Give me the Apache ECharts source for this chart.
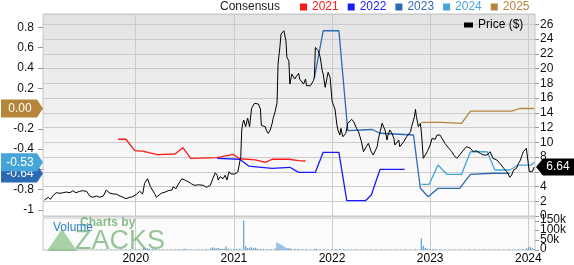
<!DOCTYPE html>
<html><head><meta charset="utf-8">
<script src="https://cdn.jsdelivr.net/npm/echarts@6/dist/echarts.min.js"></script>
<style>html,body{margin:0;padding:0;background:#fff}#c{width:574px;height:265px}</style>
</head><body><div id="c"></div>
<script>
// ---------- data ----------
const yearTicks = [2020, 2021, 2022, 2023, 2024];
const epsTicks = [-1, -0.8, -0.6, -0.4, -0.2, 0, 0.2, 0.4, 0.6, 0.8];
const epsLabels = [-1, -0.8, -0.4, -0.2, 0.2, 0.4, 0.6, 0.8];
const volumeTicksK = [0, 50, 100, 150];
const legendNames = ['2021', '2022', '2023', '2024', '2025'];
const legendColors = ['#ff1a1a', '#1a1aff', '#2a69b3', '#45a4d8', '#b5853c'];

const price = [[2019.07,2.17],[2019.11,2.54],[2019.13,2.26],[2019.16,2.81],[2019.19,3.16],[2019.23,3.08],[2019.26,3.16],[2019.29,3.25],[2019.33,3.16],[2019.36,3.43],[2019.39,3.16],[2019.43,3.35],[2019.46,3.43],[2019.50,3.35],[2019.53,2.71],[2019.56,2.54],[2019.60,2.71],[2019.63,2.54],[2019.67,2.71],[2019.70,3.53],[2019.73,3.16],[2019.77,2.98],[2019.80,2.98],[2019.84,2.71],[2019.87,2.54],[2019.90,2.35],[2019.94,2.54],[2019.97,2.62],[2020.01,2.98],[2020.04,3.35],[2020.07,2.98],[2020.09,4.43],[2020.12,5.06],[2020.14,4.98],[2020.15,3.97],[2020.17,3.89],[2020.19,3.08],[2020.21,2.54],[2020.23,2.81],[2020.26,3.08],[2020.30,3.25],[2020.33,3.43],[2020.37,3.53],[2020.38,3.97],[2020.41,3.70],[2020.43,4.24],[2020.47,5.06],[2020.50,4.88],[2020.54,4.61],[2020.57,4.34],[2020.60,4.16],[2020.64,4.24],[2020.66,3.97],[2020.69,4.16],[2020.72,3.89],[2020.76,4.16],[2020.78,4.88],[2020.81,5.87],[2020.83,5.52],[2020.84,4.88],[2020.86,5.33],[2020.89,5.06],[2020.91,5.52],[2020.93,4.88],[2020.95,6.01],[2020.97,5.70],[2020.99,5.52],[2021.01,5.70],[2021.04,5.97],[2021.06,6.24],[2021.07,8.04],[2021.08,11.66],[2021.09,12.57],[2021.10,13.02],[2021.12,12.11],[2021.14,13.29],[2021.16,12.11],[2021.18,14.60],[2021.21,15.28],[2021.23,15.42],[2021.25,15.19],[2021.27,14.51],[2021.28,12.3],[2021.30,12.57],[2021.32,12.11],[2021.33,11.66],[2021.35,11.21],[2021.37,11.66],[2021.39,12.57],[2021.40,13.25],[2021.42,14.14],[2021.44,15.42],[2021.45,20.61],[2021.47,23.09],[2021.48,24.68],[2021.49,24.77],[2021.50,24.91],[2021.51,25.13],[2021.53,23.77],[2021.54,21.52],[2021.56,21.06],[2021.57,17.90],[2021.59,19.25],[2021.61,19.49],[2021.62,18.58],[2021.64,19.02],[2021.66,19.35],[2021.67,18.58],[2021.69,18.81],[2021.71,17.90],[2021.73,18.58],[2021.74,17.67],[2021.76,17.45],[2021.78,17.67],[2021.79,17.90],[2021.81,18.35],[2021.82,18.81],[2021.83,22.87],[2021.84,22.64],[2021.85,23.09],[2021.86,22.41],[2021.88,21.52],[2021.90,19.70],[2021.91,19.25],[2021.93,17.45],[2021.95,18.81],[2021.96,19.49],[2021.98,18.81],[2022.00,15.63],[2022.01,15.19],[2022.03,14.51],[2022.05,12.34],[2022.06,11.66],[2022.08,10.98],[2022.09,11.89],[2022.11,10.75],[2022.13,10.54],[2022.14,11.21],[2022.16,12.57],[2022.18,12.34],[2022.20,13.11],[2022.22,12.79],[2022.23,12.57],[2022.25,11.89],[2022.27,11.43],[2022.29,11.21],[2022.30,10.07],[2022.32,8.72],[2022.34,8.50],[2022.35,9.40],[2022.37,9.86],[2022.39,9.63],[2022.40,8.72],[2022.42,8.27],[2022.44,8.50],[2022.46,9.40],[2022.47,10.31],[2022.49,10.31],[2022.51,12.57],[2022.52,12.79],[2022.54,11.66],[2022.56,10.31],[2022.57,10.98],[2022.59,11.66],[2022.61,11.21],[2022.63,10.54],[2022.64,9.63],[2022.66,9.86],[2022.68,10.31],[2022.69,9.40],[2022.71,9.40],[2022.73,10.07],[2022.74,10.31],[2022.76,10.75],[2022.78,10.54],[2022.80,11.43],[2022.81,12.11],[2022.83,12.34],[2022.84,13.47],[2022.85,14.47],[2022.86,13.47],[2022.88,12.11],[2022.90,12.57],[2022.91,11.43],[2022.93,7.82],[2022.95,8.27],[2022.97,8.72],[2022.98,8.95],[2023.00,9.63],[2023.02,10.54],[2023.03,10.75],[2023.05,10.40],[2023.07,10.98],[2023.08,11.21],[2023.10,10.98],[2023.12,10.54],[2023.13,10.31],[2023.15,9.86],[2023.17,9.63],[2023.19,9.18],[2023.20,8.95],[2023.22,8.72],[2023.24,8.27],[2023.25,8.04],[2023.27,7.82],[2023.29,8.04],[2023.30,8.27],[2023.32,8.50],[2023.34,8.95],[2023.36,9.18],[2023.37,9.40],[2023.39,9.40],[2023.41,9.18],[2023.44,8.72],[2023.47,8.85],[2023.51,8.50],[2023.54,8.27],[2023.58,8.27],[2023.61,8.72],[2023.64,7.82],[2023.68,7.59],[2023.71,7.15],[2023.75,6.47],[2023.78,6.01],[2023.80,5.56],[2023.81,5.25],[2023.83,5.56],[2023.85,6.24],[2023.87,6.01],[2023.88,6.47],[2023.90,7.15],[2023.92,7.59],[2023.93,8.04],[2023.95,8.72],[2023.97,8.95],[2023.98,9.18],[2024.00,8.95],[2024.01,6.01],[2024.04,6.01],[2024.06,6.64]];

const cons2021 = [[2019.82,-0.303],[2019.90,-0.303],[2019.99,-0.414],[2020.07,-0.419],[2020.22,-0.455],[2020.40,-0.448],[2020.48,-0.386],[2020.56,-0.491],[2020.83,-0.483],[2020.99,-0.451],[2021.06,-0.495],[2021.22,-0.507],[2021.32,-0.530],[2021.39,-0.500],[2021.56,-0.500],[2021.66,-0.514],[2021.73,-0.517]];
const cons2022 = [[2020.83,-0.491],[2021.06,-0.500],[2021.15,-0.567],[2021.39,-0.589],[2021.57,-0.579],[2021.66,-0.629],[2021.83,-0.629],[2021.91,-0.432],[2022.07,-0.432],[2022.15,-0.908],[2022.34,-0.908],[2022.40,-0.852],[2022.49,-0.599],[2022.74,-0.599]];
const cons2023 = [[2021.82,0.300],[2021.91,0.766],[2022.07,0.766],[2022.16,-0.217],[2022.41,-0.207],[2022.49,-0.244],[2022.83,-0.261],[2022.90,-0.786],[2022.98,-0.869],[2023.08,-0.786],[2023.30,-0.786],[2023.41,-0.648],[2023.64,-0.638],[2023.81,-0.64]];
const cons2024 = [[2022.91,-0.747],[2022.99,-0.747],[2023.08,-0.557],[2023.17,-0.648],[2023.32,-0.648],[2023.41,-0.426],[2023.58,-0.426],[2023.66,-0.606],[2023.81,-0.606],[2023.90,-0.557],[2024.03,-0.557],[2024.06,-0.53]];
const cons2025 = [[2022.91,-0.136],[2023.12,-0.136],[2023.32,-0.146],[2023.41,-0.025],[2023.83,-0.025],[2023.91,0.0],[2024.06,0.0]];

// volume in thousands of shares
const volumeK = [[2019.08,2],[2019.12,1.5],[2019.17,2],[2019.21,3],[2019.25,2],[2019.30,1.5],[2019.35,2],[2019.40,2.5],[2019.45,2],[2019.50,1.5],[2019.55,2],[2019.60,3],[2019.65,2],[2019.70,2],[2019.75,2.5],[2019.80,2],[2019.85,3],[2019.90,2],[2019.95,2.5],[2020.00,3],[2020.04,4],[2020.08,7],[2020.10,9],[2020.12,8],[2020.14,7],[2020.17,6],[2020.20,5],[2020.24,3],[2020.28,3],[2020.32,2.5],[2020.36,3],[2020.40,4],[2020.44,4],[2020.48,5],[2020.50,6],[2020.53,4],[2020.56,3],[2020.60,3],[2020.64,4],[2020.68,3],[2020.72,5],[2020.76,7],[2020.78,14],[2020.80,12],[2020.82,8],[2020.84,10],[2020.86,7],[2020.88,5],[2020.90,6],[2020.92,18],[2020.94,6],[2020.97,5],[2021.00,4],[2021.03,5],[2021.06,6],[2021.10,152],[2021.12,20],[2021.14,10],[2021.16,12],[2021.18,14],[2021.20,9],[2021.22,12],[2021.24,7],[2021.27,6],[2021.30,5],[2021.34,4],[2021.38,5],[2021.42,8],[2021.44,38],[2021.46,32],[2021.48,28],[2021.50,22],[2021.52,14],[2021.54,10],[2021.56,9],[2021.58,8],[2021.62,6],[2021.66,5],[2021.70,4],[2021.74,4],[2021.78,3],[2021.82,5],[2021.84,6],[2021.88,4],[2021.92,3],[2021.96,3],[2022.00,4],[2022.04,5],[2022.08,7],[2022.12,4],[2022.16,3],[2022.20,3],[2022.25,3],[2022.30,2.5],[2022.35,3],[2022.40,2.5],[2022.45,2],[2022.50,3],[2022.55,2],[2022.60,2.5],[2022.65,2],[2022.70,3],[2022.75,2],[2022.80,3],[2022.85,4],[2022.91,61],[2022.93,22],[2022.95,12],[2022.97,8],[2023.00,6],[2023.03,5],[2023.06,4],[2023.10,4],[2023.15,3],[2023.20,3],[2023.25,3],[2023.30,3],[2023.35,2.5],[2023.40,3],[2023.45,2.5],[2023.50,3],[2023.55,4],[2023.60,3],[2023.65,3],[2023.70,2.5],[2023.75,3],[2023.80,4],[2023.85,3],[2023.90,4],[2023.94,5],[2023.98,8],[2024.00,14],[2024.02,17],[2024.04,9],[2024.06,5]];

// ---------- chart ----------
const FONT = "'Liberation Sans', Arial, sans-serif";
const X_MIN = 2019.055, X_MAX = 2024.068;
const chart = echarts.init(document.getElementById('c'), null, {renderer: 'canvas'});

const consSeries = [cons2021, cons2022, cons2023, cons2024, cons2025].map((d, i) => ({
  name: legendNames[i], type: 'line', xAxisIndex: 0, yAxisIndex: 0, data: d,
  showSymbol: false, symbol: 'none', lineStyle: {width: 1.3, color: legendColors[i]},
  itemStyle: {color: legendColors[i]}, z: 3
}));

const option = {
  animation: false,
  textStyle: {fontFamily: FONT},
  grid: [
    {left: 43, right: 39, top: 14, height: 202, show: true, borderColor: '#c6c6c6', borderWidth: 1,
     backgroundColor: new echarts.graphic.LinearGradient(0, 0, 0, 1, [{offset: 0, color: '#e3e3e3'}, {offset: 1, color: '#ffffff'}])},
    {left: 43, right: 39, top: 218, height: 36, show: true, borderColor: '#c6c6c6', borderWidth: 1, backgroundColor: '#fbfbfb'}
  ],
  legend: [
    {left: 300, top: 1, padding: 0, itemWidth: 7, itemHeight: 7, itemGap: 9, icon: 'rect',
     selectedMode: false, textStyle: {fontSize: 12, fontFamily: FONT},
     data: legendNames.map((n, i) => ({name: n, textStyle: {color: legendColors[i]}}))},
    {left: 464, top: 19, padding: 0, itemWidth: 9, itemHeight: 5, icon: 'rect', selectedMode: false,
     textStyle: {fontSize: 12, color: '#000', fontFamily: FONT}, data: ['Price ($)']}
  ],
  xAxis: [
    {type: 'value', gridIndex: 0, min: X_MIN, max: X_MAX, axisLine: {show: false},
     axisTick: {show: false, customValues: yearTicks}, axisLabel: {show: false, customValues: yearTicks},
     splitLine: {show: true, lineStyle: {color: '#cbcbcb', width: 1}}},
    {type: 'value', gridIndex: 1, min: X_MIN, max: X_MAX, axisLine: {show: false},
     axisTick: {show: false, customValues: yearTicks},
     axisLabel: {show: true, customValues: yearTicks, margin: 3, fontSize: 12, color: '#000', formatter: v => String(Math.round(v))},
     splitLine: {show: true, lineStyle: {color: '#cbcbcb', width: 1}}}
  ],
  yAxis: [
    {type: 'value', gridIndex: 0, position: 'left', min: -1.059, max: 0.931, axisLine: {show: false},
     axisTick: {show: true, length: 5, customValues: epsTicks, lineStyle: {color: '#999'}},
     axisLabel: {customValues: epsLabels, margin: 9, fontSize: 12, color: '#111',
       formatter: v => (Math.abs(v + 1) < 1e-9 ? '-1' : v.toFixed(1))},
     splitLine: {show: false}},
    {type: 'value', gridIndex: 0, position: 'right', min: 0, max: 27.4, interval: 2, axisLine: {show: false},
     axisTick: {show: true, length: 4, lineStyle: {color: '#999'}},
     axisLabel: {showMaxLabel: false, showMinLabel: true, margin: 5, fontSize: 12, color: '#111'},
     splitLine: {show: true, lineStyle: {color: '#cbcbcb', width: 1}}},
    {type: 'value', gridIndex: 1, position: 'right', min: 0, max: 165, axisLine: {show: false},
     axisTick: {show: true, length: 4, customValues: volumeTicksK, lineStyle: {color: '#999'}},
     axisLabel: {show: false},
     splitLine: {show: false}}
  ],
  series: consSeries.concat([
    {name: 'Price ($)', type: 'line', xAxisIndex: 0, yAxisIndex: 1, data: price, showSymbol: false, symbol: 'none',
     lineStyle: {width: 1, color: '#000'}, itemStyle: {color: '#000'}, z: 4},
    {name: 'Volume', type: 'bar', xAxisIndex: 1, yAxisIndex: 2, data: volumeK, barWidth: 1.2,
     itemStyle: {color: '#5b9fd6'}, z: 2}
  ])
};
chart.setOption(option);

// ---------- badges, volume labels and watermark ----------
const yEps = v => chart.convertToPixel({yAxisIndex: 0}, v);
const yPrice = v => chart.convertToPixel({yAxisIndex: 1}, v);
const yVol = v => chart.convertToPixel({yAxisIndex: 2}, v);
function leftBadge(v, color, z) {
  const y = yEps(v);
  return [
    {type: 'polygon', z: z, shape: {points: [[1, y - 9], [37, y - 9], [43, y], [37, y + 9], [1, y + 9]]}, style: {fill: color}},
    {type: 'text', z: z + 1, x: 20, y: y, style: {text: v.toFixed(2), fill: '#fff', font: '12px ' + FONT, align: 'center', verticalAlign: 'middle'}}
  ];
}
const volLabels = volumeTicksK.map(v => ({
  type: 'text', z: 5, x: 540, y: yVol(v) - 1,
  style: {text: v === 0 ? '0' : v + 'k', fill: '#111', font: '12px ' + FONT, verticalAlign: 'middle'}
}));
const last = a => a[a.length - 1][1];
const pLast = last(price);
const yp = yPrice(pLast);
const graphics = [
  {type: 'text', z: 10, x: 220, y: 7, style: {text: 'Consensus', fill: '#222', font: '12px ' + FONT, verticalAlign: 'middle'}},
  {type: 'polygon', z: 20, shape: {points: [[47, 251], [62, 229], [77, 251]]}, style: {fill: 'rgba(95,175,95,0.55)'}},
  {type: 'text', z: 20, x: 80, y: 222.5, style: {text: 'Charts by', fill: 'rgba(85,160,85,0.7)', font: 'bold 12px ' + FONT, verticalAlign: 'middle'}},
  {type: 'text', z: 20, x: 75, y: 241.5, style: {text: 'ZACKS', fill: 'rgba(85,160,85,0.6)', font: '27px ' + FONT, verticalAlign: 'middle'}},
  {type: 'text', z: 21, x: 53, y: 228, style: {text: 'Volume', fill: '#2f80c8', font: '12px ' + FONT, verticalAlign: 'middle'}}
].concat(
  volLabels,
  leftBadge(last(cons2023), legendColors[2], 30),
  leftBadge(last(cons2024), legendColors[3], 32),
  leftBadge(last(cons2025), legendColors[4], 34),
  [
    {type: 'polygon', z: 30, shape: {points: [[536, yp], [543, yp - 8.5], [574, yp - 8.5], [574, yp + 8.5], [543, yp + 8.5]]}, style: {fill: '#000'}},
    {type: 'text', z: 31, x: 558, y: yp, style: {text: pLast.toFixed(2), fill: '#fff', font: '12px ' + FONT, align: 'center', verticalAlign: 'middle'}}
  ]
);
chart.setOption({graphic: graphics});
</script>
</body></html>
